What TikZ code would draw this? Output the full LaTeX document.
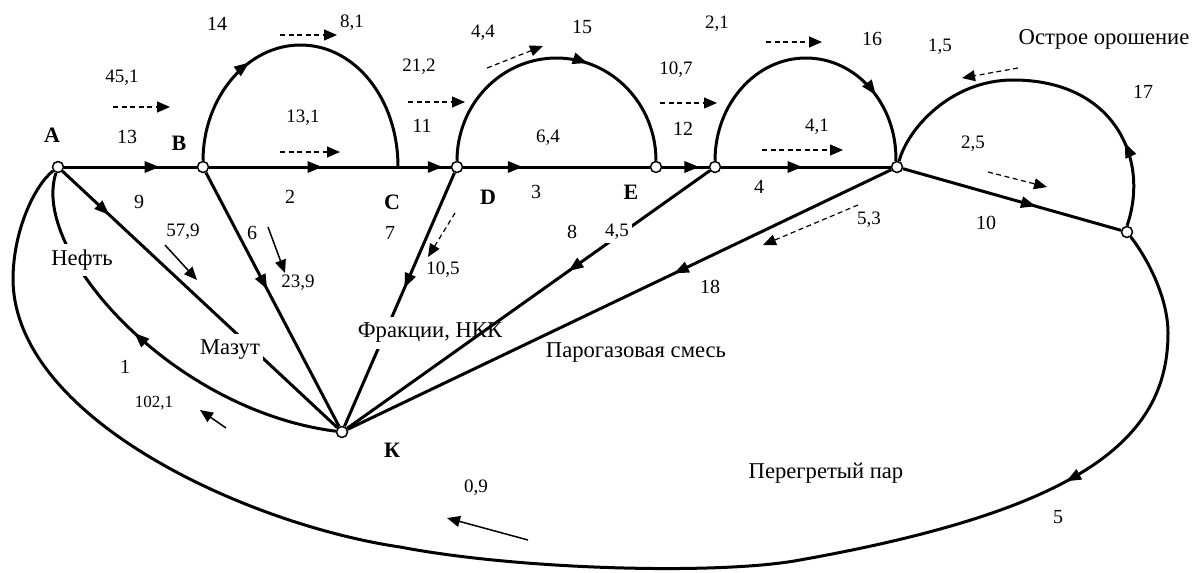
\documentclass[tikz,border=0pt]{standalone}
\usepackage{fontspec}
\setmainfont{Liberation Serif}
\usetikzlibrary{arrows.meta,decorations.markings}
\tikzset{
 vtx/.style={circle,draw,fill=white,line width=1.5pt,inner sep=0pt,minimum size=11pt},
 flow/.style={line width=3pt},
 marrow/.style={postaction={decorate},decoration={markings,mark=at position #1 with {\arrow{Triangle[length=15pt,width=11pt]}}}},
 dashedarrow/.style={line width=1.2pt,dash pattern=on 5pt off 3.5pt,-{Triangle[length=13pt,width=11pt]}},
 thinarrow/.style={line width=1.5pt,-{Triangle[length=13pt,width=11pt]}},
 elab/.style={font=\fontsize{20}{22}\selectfont,inner sep=1pt},
 vlab/.style={font=\fontsize{19}{21}\selectfont,inner sep=1pt},
 plab/.style={font=\fontsize{22}{24}\selectfont\bfseries,inner sep=1pt},
 tlab/.style={font=\fontsize{22.6}{25}\selectfont,inner sep=1pt},
 gap/.style={fill=white,inner xsep=3pt,inner ysep=6pt},
}
\begin{document}
\begin{tikzpicture}[x=1pt,y=-1pt]
\useasboundingbox (0,0) rectangle (1195,573);
% vertices
\node[vtx] (A) at (58,167) {};
\node[vtx] (B) at (203,167) {};
\coordinate (C) at (398,167);
\node[vtx] (D) at (457,167) {};
\node[vtx] (E) at (656,167) {};
\node[vtx] (F) at (715,167) {};
\node[vtx] (G) at (897,167) {};
\node[vtx] (H) at (1127,232) {};
\node[vtx] (K) at (342,432) {};
% top chain
\draw[flow,marrow=0.72] (A) -- (B);
\draw[flow,marrow=0.6] (B) -- (C);
\draw[flow,marrow=0.85] (C) -- (D);
\draw[flow,marrow=0.32] (D) -- (E);
\draw[flow,marrow=0.8] (E) -- (F);
\draw[flow,marrow=0.48] (F) -- (G);
\draw[flow,marrow=0.61] (G) -- (H);
% arcs
\draw[flow,marrow=0.33] (B.north) .. controls (203,98) and (246.6,45) .. (300.5,45) .. controls (354.4,45) and (398,98) .. (C);
\draw[flow,marrow=0.6] (D.north) .. controls (457,104) and (501.5,58) .. (556.5,58) .. controls (611.5,58) and (656,104) .. (E.north);
\draw[flow,marrow=0.77] (F.north) .. controls (715,104) and (755.7,58) .. (806,58) .. controls (856.3,58) and (897,104) .. (G.100);
\draw[flow,marrow=0.23] (H.north) .. controls (1150,160) and (1115,80) .. (1013,80) .. controls (950,80) and (907,130) .. (G.70);
% lines to K
\draw[flow,marrow=0.17] (A) -- (K);
\node[tlab,gap] (mazut) at (230,350) {Мазут};
\draw[flow,marrow=0.46] (B) -- (K);
\draw[flow,marrow=0.455] (D) -- (K);
\node[tlab,gap] (frak) at (430,333) {Фракции, НКК};
\draw[flow,marrow=0.39] (F) -- (K);
\node[vlab,fill=white,inner sep=3pt] (v45) at (617,232) {4,5};
\draw[flow,marrow=0.40] (G) -- (K);
% curve 1
\draw[flow,marrow=0.55] (K) .. controls (170,410) and (30,250) .. (A);
\node[tlab,gap] (neft) at (82,260) {Нефть};
% curve 5
\draw[flow,marrow=0.185] (H) .. controls (1150,262) and (1168,300) .. (1168,333)
  .. controls (1168,440) and (1080,510) .. (800,560)
  .. controls (720,575) and (520,570) .. (400,547)
  .. controls (250,525) and (15,420) .. (13,280)
  .. controls (13,230) and (35,185) .. (A);
% point labels
\node[plab] (lA) at (52,135) {A};
\node[plab] (lB) at (179,143) {B};
\node[plab] (lC) at (392,202) {C};
\node[plab] (lD) at (488,197) {D};
\node[plab] (lE) at (631,192) {E};
\node[plab] (lK) at (392,450) {К};
% edge numbers
\node[elab] (n13) at (127,137) {13};
\node[elab] (n14) at (217,24) {14};
\node[elab] (n2) at (290,197) {2};
\node[elab] (n11) at (422,126) {11};
\node[elab] (n15) at (582,27) {15};
\node[elab] (n3) at (536,192) {3};
\node[elab] (n12) at (683,129) {12};
\node[elab] (n16) at (872,39) {16};
\node[elab] (n4) at (759,187) {4};
\node[elab] (n17) at (1143,92) {17};
\node[elab] (n10) at (986,223) {10};
\node[elab] (n9) at (139,202) {9};
\node[elab] (n6) at (252,233) {6};
\node[elab] (n7) at (390,233) {7};
\node[elab] (n8) at (572,232) {8};
\node[elab] (n18) at (710,287) {18};
\node[elab] (n1) at (125,367) {1};
\node[elab] (n5) at (1058,517) {5};
% values
\node[vlab] (v451) at (122,78) {45,1};
\node[vlab] (v81) at (352,23) {8,1};
\node[vlab] (v131) at (303,118) {13,1};
\node[vlab] (v212) at (419,67) {21,2};
\node[vlab] (v44) at (483,33) {4,4};
\node[vlab] (v64) at (548,138) {6,4};
\node[vlab] (v107) at (676,70) {10,7};
\node[vlab] (v21) at (717,24) {2,1};
\node[vlab] (v41) at (817,127) {4,1};
\node[vlab] (v15) at (940,47) {1,5};
\node[vlab] (v25) at (973,144) {2,5};
\node[vlab] (v53) at (869,220) {5,3};
\node[vlab] (v579) at (183,232) {57,9};
\node[vlab] (v239) at (298,283) {23,9};
\node[vlab] (v105) at (443,270) {10,5};
\node[vlab,font=\fontsize{17}{19}\selectfont] (v1021) at (154,403) {102,1};
\node[vlab] (v09) at (476,488) {0,9};
% texts
\node[tlab] (orosh) at (1104,39) {Острое орошение};
\node[tlab] (parog) at (636,353) {Парогазовая смесь};
\node[tlab] (perpar) at (826,473) {Перегретый пар};
% dashed indicator arrows
\draw[dashedarrow] (113,107) -- (170,107);
\draw[dashedarrow] (280,35) -- (337,35);
\draw[dashedarrow] (280,152) -- (340,152);
\draw[dashedarrow] (408,102) -- (465,102);
\draw[dashedarrow] (487,68) -- (543,46);
\draw[dashedarrow] (660,103) -- (717,103);
\draw[dashedarrow] (766,42) -- (822,42);
\draw[dashedarrow] (762,150) -- (843,150);
\draw[dashedarrow] (1018,68) -- (962,78);
\draw[dashedarrow] (988,172) -- (1047,187);
\draw[dashedarrow] (858,205) -- (763,245);
\draw[dashedarrow] (455,213) -- (428,257);
% solid indicator arrows
\draw[thinarrow] (165,245) -- (197,280);
\draw[thinarrow] (268,227) -- (285,273);
\draw[thinarrow] (226,428) -- (200,410);
\draw[thinarrow] (528,540) -- (447,518);
\end{tikzpicture}
\end{document}
